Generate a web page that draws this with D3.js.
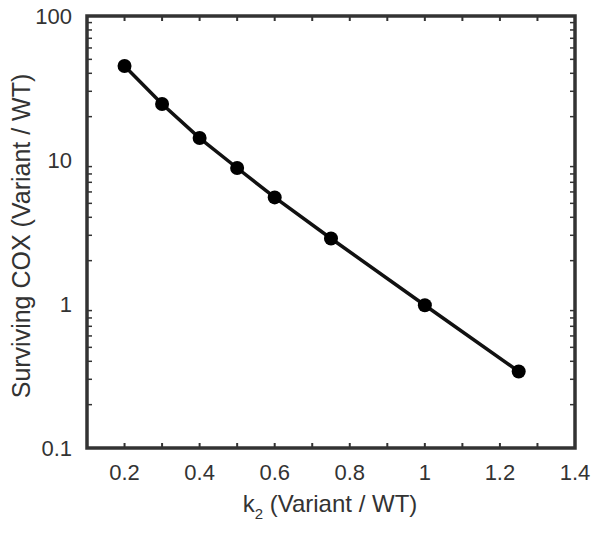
<!DOCTYPE html>
<html lang="en">
<head>
  <meta charset="UTF-8">
  <title>Surviving COX vs k2</title>
  <script src="https://d3js.org/d3.v7.min.js"></script>
  <style>
    body {
      margin: 0;
      padding: 0;
      background: #fff;
      font-family: "Liberation Sans", Arial, sans-serif;
    }
  </style>
</head>
<body>
  <div id="vis"></div>
  <script>
    const k2 = [0.2, 0.3, 0.4, 0.5, 0.6, 0.75, 1.0, 1.25];
    const cox = [45, 24.5, 14.2, 8.8, 5.5, 2.85, 0.98, 0.34];
    const xTicks = [0.2, 0.4, 0.6, 0.8, 1, 1.2, 1.4];
    const yTicks = [0.1, 1, 10, 100];

    const width = 601, height = 533;
    const margin = { top: 16, right: 26, bottom: 85, left: 87 };

    const svg = d3.select("#vis").append("svg")
      .attr("width", width)
      .attr("height", height);

    const x = d3.scaleLinear().domain([0.1, 1.4]).range([margin.left, width - margin.right]);
    const y = d3.scaleLog().domain([0.1, 100]).range([height - margin.bottom, margin.top]);

    const ink = "#333";
    const g = svg.append("g");

    // minor ticks, drawn inside the frame
    const xMinor = d3.range(2, 14).map(d => d / 10);
    const yMinor = [];
    [0.1, 1, 10].forEach(dec => {
      for (let m = 2; m <= 9; m++) yMinor.push(dec * m);
    });

    const tl = 5;
    g.selectAll("line.xt")
      .data(xMinor)
      .enter().append("line")
      .attr("x1", d => x(d)).attr("x2", d => x(d))
      .attr("y1", y(0.1)).attr("y2", y(0.1) - tl)
      .attr("stroke", ink).attr("stroke-width", 2);
    g.selectAll("line.xtt")
      .data(xMinor)
      .enter().append("line")
      .attr("x1", d => x(d)).attr("x2", d => x(d))
      .attr("y1", y(100)).attr("y2", y(100) + tl)
      .attr("stroke", ink).attr("stroke-width", 2);
    g.selectAll("line.yl")
      .data(yMinor)
      .enter().append("line")
      .attr("x1", x(0.1)).attr("x2", x(0.1) + tl)
      .attr("y1", d => y(d)).attr("y2", d => y(d))
      .attr("stroke", ink).attr("stroke-width", 1.5);
    g.selectAll("line.yr")
      .data(yMinor)
      .enter().append("line")
      .attr("x1", x(1.4)).attr("x2", x(1.4) - tl)
      .attr("y1", d => y(d)).attr("y2", d => y(d))
      .attr("stroke", ink).attr("stroke-width", 1.5);

    // frame
    g.append("rect")
      .attr("x", x(0.1)).attr("y", y(100))
      .attr("width", x(1.4) - x(0.1))
      .attr("height", y(0.1) - y(100))
      .attr("fill", "none")
      .attr("stroke", ink)
      .attr("stroke-width", 3.5);

    // tick labels
    g.selectAll("text.xl")
      .data(xTicks)
      .enter().append("text")
      .attr("x", d => x(d))
      .attr("y", y(0.1) + 32)
      .attr("text-anchor", "middle")
      .attr("font-size", 22)
      .attr("fill", ink)
      .text(d => d3.format("~g")(d));

    g.selectAll("text.yl")
      .data(yTicks)
      .enter().append("text")
      .attr("x", x(0.1) - 15)
      .attr("y", d => y(d) + 8)
      .attr("text-anchor", "end")
      .attr("font-size", 22)
      .attr("fill", ink)
      .text(d => d3.format("~g")(d));

    // axis titles
    const xt = g.append("text")
      .attr("x", 330)
      .attr("y", y(0.1) + 64)
      .attr("text-anchor", "middle")
      .attr("font-size", 24)
      .attr("fill", ink);
    xt.append("tspan").text("k");
    xt.append("tspan").attr("font-size", 15).attr("dy", 7).text("2");
    xt.append("tspan").attr("dy", -7).text(" (Variant / WT)");

    g.append("text")
      .attr("transform", `translate(30,236) rotate(-90)`)
      .attr("text-anchor", "middle")
      .attr("font-size", 25)
      .attr("fill", ink)
      .text("Surviving COX (Variant / WT)");

    // data line and markers
    const pts = k2.map((d, i) => [d, cox[i]]);
    g.append("path")
      .datum(pts)
      .attr("d", d3.line().x(d => x(d[0])).y(d => y(d[1])))
      .attr("fill", "none")
      .attr("stroke", "#111")
      .attr("stroke-width", 3.5);

    g.selectAll("circle")
      .data(pts)
      .enter().append("circle")
      .attr("cx", d => x(d[0]))
      .attr("cy", d => y(d[1]))
      .attr("r", 7)
      .attr("fill", "#000");
  </script>
</body>
</html>
